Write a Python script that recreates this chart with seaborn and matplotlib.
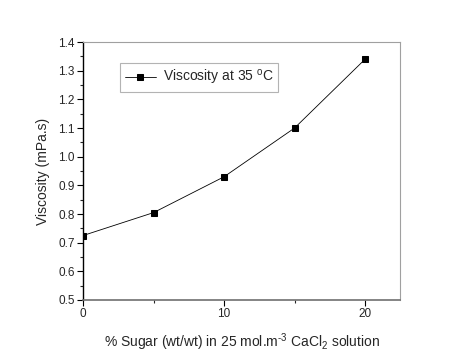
import matplotlib
matplotlib.use("Agg")
import matplotlib.pyplot as plt
import seaborn as sns
import pandas as pd
from matplotlib.ticker import MultipleLocator

sugar = [0, 5, 10, 15, 20]
viscosity = [0.725, 0.805, 0.93, 1.10, 1.34]
series_label = "Viscosity at 35 $^{\\mathregular{o}}$C"

sns.set_style("ticks")
plt.rcParams['font.family'] = ['Liberation Sans', 'DejaVu Sans']
plt.rcParams['mathtext.fontset'] = 'custom'
plt.rcParams['mathtext.rm'] = 'Liberation Sans'
plt.rcParams['axes.unicode_minus'] = False

df = pd.DataFrame({"x": sugar, "y": viscosity})
fig = plt.figure(figsize=(4.67, 3.63), dpi=100)
ax = fig.add_axes([0.178, 0.1736, 0.679, 0.7104])
sns.lineplot(data=df, x="x", y="y", ax=ax, color="black", linewidth=0.6,
             marker="s", markersize=5, markeredgecolor="black", label=series_label)
ax.set_xlim(0, 22.5)
ax.set_ylim(0.5, 1.4)
ax.xaxis.set_major_locator(MultipleLocator(10))
ax.xaxis.set_minor_locator(MultipleLocator(5))
ax.yaxis.set_major_locator(MultipleLocator(0.1))
ax.yaxis.set_minor_locator(MultipleLocator(0.05))
ax.set_yticklabels([f"{v:.1f}" for v in ax.get_yticks()])
ax.tick_params(which="major", direction="out", length=4, width=0.8, labelsize=8.5, color="black", pad=2)
ax.tick_params(which="minor", direction="out", length=2.5, width=0.8)
for s in ["top", "right"]:
    ax.spines[s].set_color("#a0a0a0")
    ax.spines[s].set_linewidth(0.8)
ax.spines["bottom"].set_color("#707070")
ax.spines["bottom"].set_linewidth(1.2)
ax.spines["left"].set_color("black")
ax.spines["left"].set_linewidth(1.0)
ax.set_xlabel("% Sugar (wt/wt) in 25 mol.m$^{\\mathregular{\u20103}}$ CaCl$_{\\mathregular{2}}$ solution", fontsize=10, labelpad=8)
ax.set_ylabel("Viscosity (mPa.s)", fontsize=10, labelpad=6)
leg = ax.legend(loc="upper left", bbox_to_anchor=(0.117, 0.919), borderaxespad=0, fontsize=10, frameon=True,
                fancybox=False, edgecolor="#a0a0a0", handlelength=2.2, handletextpad=0.5, borderpad=0.35)
leg.get_frame().set_linewidth(0.8)
fig.savefig("out.png", dpi=100)
